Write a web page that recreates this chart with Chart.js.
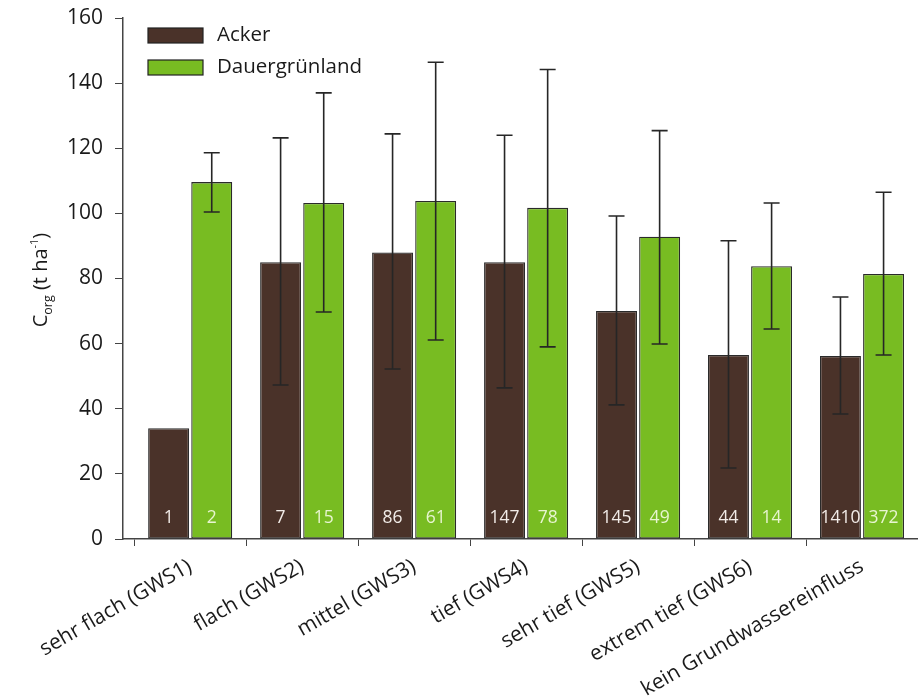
<!DOCTYPE html>
<html>
<head>
<meta charset="utf-8">
<script src="https://cdn.jsdelivr.net/npm/chart.js@4"></script>
<style>
  html, body { margin: 0; padding: 0; background: #fff; }
</style>
</head>
<body>
<canvas id="myChart" width="918" height="699"></canvas>
<script>
var categories = ['sehr flach (GWS1)', 'flach (GWS2)', 'mittel (GWS3)', 'tief (GWS4)',
                  'sehr tief (GWS5)', 'extrem tief (GWS6)', 'kein Grundwassereinfluss'];
var ackerMean = [34, 85, 88, 85, 70, 56.5, 56.2];
var ackerLow  = [null, 47.3, 52.2, 46.4, 41.2, 21.8, 38.4];
var ackerHigh = [null, 123.2, 124.4, 124, 99.2, 91.6, 74.3];
var ackerN    = [1, 7, 86, 147, 145, 44, 1410];
var gruenMean = [109.6, 103.2, 103.8, 101.7, 92.8, 83.8, 81.4];
var gruenLow  = [100.4, 69.7, 61.1, 59, 59.9, 64.5, 56.5];
var gruenHigh = [118.6, 137, 146.4, 144.2, 125.4, 103.2, 106.5];
var gruenN    = [2, 15, 61, 78, 49, 14, 372];
var yTicks = [0, 20, 40, 60, 80, 100, 120, 140, 160];

var FONT = '"Open Sans", "DejaVu Sans", sans-serif';

function pts(arr) {
    return arr.map(function(v, i) { return { x: i, y: v }; });
}

// Fehlerbalken, Anzahl und Legende
var extras = {
    id: 'extras',
    afterDatasetsDraw: function(chart) {
        var ctx = chart.ctx;
        var y = chart.scales.y;
        var errs = [[ackerLow, ackerHigh, ackerN, '#f2ece8'], [gruenLow, gruenHigh, gruenN, '#e8f5d0']];
        ctx.save();
        chart.data.datasets.forEach(function(ds, d) {
            var meta = chart.getDatasetMeta(d);
            meta.data.forEach(function(bar, i) {
                var lo = errs[d][0][i], hi = errs[d][1][i];
                if (lo !== null) {
                    ctx.strokeStyle = '#262626';
                    ctx.lineWidth = 1.6;
                    ctx.beginPath();
                    ctx.moveTo(bar.x, y.getPixelForValue(lo));
                    ctx.lineTo(bar.x, y.getPixelForValue(hi));
                    ctx.moveTo(bar.x - 8, y.getPixelForValue(lo));
                    ctx.lineTo(bar.x + 8, y.getPixelForValue(lo));
                    ctx.moveTo(bar.x - 8, y.getPixelForValue(hi));
                    ctx.lineTo(bar.x + 8, y.getPixelForValue(hi));
                    ctx.stroke();
                }
                ctx.fillStyle = errs[d][3];
                ctx.font = '17.5px ' + FONT;
                ctx.textAlign = 'center';
                ctx.textBaseline = 'middle';
                ctx.fillText(errs[d][2][i], bar.x, y.bottom - 21);
            });
        });

        // Legende
        chart.data.datasets.forEach(function(ds, d) {
            var ly = 28 + d * 32;
            ctx.fillStyle = ds.backgroundColor;
            ctx.fillRect(148, ly, 55, 15);
            ctx.strokeStyle = '#222';
            ctx.lineWidth = 1.2;
            ctx.strokeRect(148, ly, 55, 15);
            ctx.fillStyle = '#1a1a1a';
            ctx.font = '20.5px ' + FONT;
            ctx.textAlign = 'left';
            ctx.textBaseline = 'middle';
            ctx.fillText(ds.label, 217, ly + 7);
        });

        // Achsentitel C_org (t ha^-1)
        ctx.translate(40, 280);
        ctx.rotate(-Math.PI / 2);
        ctx.fillStyle = '#1a1a1a';
        ctx.textAlign = 'left';
        ctx.textBaseline = 'alphabetic';
        var parts = [['C', 20, 0], ['org', 12.5, 5], [' (t ha', 20, 0], ['-1', 11, -9], [')', 20, 0]];
        var total = 0;
        parts.forEach(function(p) { ctx.font = p[1] + 'px ' + FONT; total += ctx.measureText(p[0]).width; });
        var xx = -total / 2;
        parts.forEach(function(p) {
            ctx.font = p[1] + 'px ' + FONT;
            ctx.fillText(p[0], xx, 7 + p[2]);
            xx += ctx.measureText(p[0]).width;
        });
        ctx.restore();
    }
};

var ctx = document.getElementById('myChart').getContext('2d');
var myChart = new Chart(ctx, {
    type: 'bar',
    data: {
        datasets: [{
            label: 'Acker',
            data: pts(ackerMean),
            backgroundColor: '#4a3229',
            borderColor: '#2a2a2a',
            borderWidth: 1.3,
            borderSkipped: false,
            categoryPercentage: 0.77,
            barPercentage: 0.95
        }, {
            label: 'Dauergrünland',
            data: pts(gruenMean),
            backgroundColor: '#78bc22',
            borderColor: '#2a2a2a',
            borderWidth: 1.3,
            borderSkipped: false,
            categoryPercentage: 0.77,
            barPercentage: 0.95
        }]
    },
    options: {
        responsive: false,
        animation: false,
        devicePixelRatio: 1,
        layout: { padding: { top: 18, right: 0, left: 0, bottom: 0 } },
        plugins: {
            legend: { display: false },
            tooltip: { enabled: false }
        },
        scales: {
            x: {
                type: 'linear',
                min: -0.6,
                max: 6.5,
                offset: false,
                afterBuildTicks: function(scale) {
                    scale.ticks = categories.map(function(c, i) { return { value: i }; });
                },
                afterFit: function(scale) { scale.height = 160; },
                grid: { drawOnChartArea: false, drawTicks: true, tickLength: 7, tickColor: '#444' },
                border: { display: true, color: '#444', width: 1.5 },
                ticks: {
                    autoSkip: false,
                    minRotation: 30,
                    maxRotation: 30,
                    color: '#1a1a1a',
                    font: { family: FONT, size: 21 },
                    padding: 8,
                    callback: function(v) { return categories[v]; }
                }
            },
            y: {
                min: 0,
                max: 160,
                afterBuildTicks: function(scale) {
                    scale.ticks = yTicks.map(function(v) { return { value: v }; });
                },
                afterFit: function(scale) {
                    scale.width = 123;
                    scale.paddingTop = 6;
                },
                grid: { drawOnChartArea: false, drawTicks: true, tickLength: 8, tickColor: '#444' },
                border: { display: true, color: '#444', width: 1.5 },
                ticks: {
                    color: '#1a1a1a',
                    font: { family: FONT, size: 21 },
                    padding: 12
                }
            }
        }
    },
    plugins: [extras]
});
</script>
</body>
</html>
